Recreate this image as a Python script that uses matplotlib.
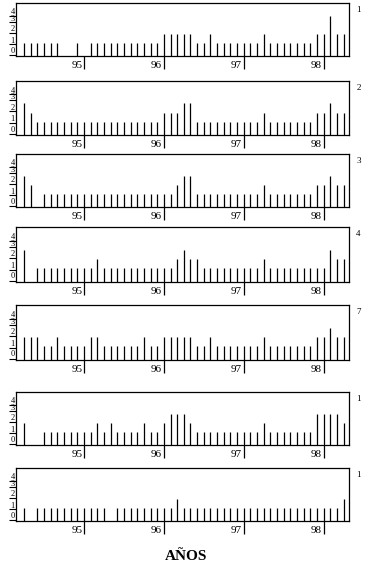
import matplotlib
matplotlib.use('Agg')
import matplotlib.pyplot as plt
from matplotlib import transforms

plt.rcParams['font.family'] = ['Liberation Serif', 'DejaVu Serif']

# months from the first spike (Apr 94) to the last (Apr 98)
months = list(range(49))
year_ticks = [9, 21, 33, 45]
year_labels = ['95', '96', '97', '98']
y_labels = ['0', '1', '2', '3', '4']
panel_ids = ['1', '2', '3', '4', '7', '1', '1']

s1 = [1, 1, 1, 1, 1, 1, 0, 0, 1, 0,
      1, 1, 1, 1, 1, 1, 1, 1, 1, 1,
      1, 2, 2, 2, 2, 2, 1, 1, 2, 1,
      1, 1, 1, 1, 1, 1, 2, 1, 1, 1,
      1, 1, 1, 1, 2, 2, 4, 2, 2]
s2 = [3, 2, 1, 1, 1, 1, 1, 1, 1, 1,
      1, 1, 1, 1, 1, 1, 1, 1, 1, 1,
      1, 2, 2, 2, 3, 3, 1, 1, 1, 1,
      1, 1, 1, 1, 1, 1, 2, 1, 1, 1,
      1, 1, 1, 1, 2, 2, 3, 2, 2]
s3 = [3, 2, 0, 1, 1, 1, 1, 1, 1, 1,
      1, 1, 1, 1, 1, 1, 1, 1, 1, 1,
      1, 1, 1, 2, 3, 3, 1, 1, 1, 1,
      1, 1, 1, 1, 1, 1, 2, 1, 1, 1,
      1, 1, 1, 1, 2, 2, 3, 2, 2]
s4 = [3, 0, 1, 1, 1, 1, 1, 1, 1, 1,
      1, 2, 1, 1, 1, 1, 1, 1, 1, 1,
      1, 1, 1, 2, 3, 2, 2, 1, 1, 1,
      1, 1, 1, 1, 1, 1, 2, 1, 1, 1,
      1, 1, 1, 1, 1, 1, 3, 2, 2]
s5 = [2, 2, 2, 1, 1, 2, 1, 1, 1, 1,
      2, 2, 1, 1, 1, 1, 1, 1, 2, 1,
      1, 2, 2, 2, 2, 2, 1, 1, 2, 1,
      1, 1, 1, 1, 1, 1, 2, 1, 1, 1,
      1, 1, 1, 1, 2, 2, 3, 2, 2]
s6 = [2, 0, 0, 1, 1, 1, 1, 1, 1, 1,
      1, 2, 1, 2, 1, 1, 1, 1, 2, 1,
      1, 2, 3, 3, 3, 2, 1, 1, 1, 1,
      1, 1, 1, 1, 1, 1, 2, 1, 1, 1,
      1, 1, 1, 1, 3, 3, 3, 3, 2]
s7 = [1, 0, 1, 1, 1, 1, 1, 1, 1, 1,
      1, 1, 1, 0, 1, 1, 1, 1, 1, 1,
      1, 1, 1, 2, 1, 1, 1, 1, 1, 1,
      1, 1, 1, 1, 1, 1, 1, 1, 1, 1,
      1, 1, 1, 1, 1, 1, 1, 1, 2]
series = [s1, s2, s3, s4, s5, s6, s7]

W, H = 372, 569
fig = plt.figure(figsize=(W / 100, H / 100), dpi=100)

# panel top / bottom in pixels
tops = [3, 81, 154, 227, 305, 392, 468]
bottoms = [56, 135, 207, 282, 360, 445, 521]
left_px, right_px = 16, 349

ybase = -0.45
ytick_pos = [-0.3, 0.85, 2.15, 3.35, 4.0]
ylab_pos = [0.15, 1.25, 2.55, 3.65, 4.4]

for vals, pid, top, bot in zip(series, panel_ids, tops, bottoms):
    ax = fig.add_axes([left_px / W, 1 - bot / H, (right_px - left_px) / W, (bot - top) / H])
    xs = [m for m, v in zip(months, vals) if v > 0]
    vs = [v for v in vals if v > 0]
    ax.vlines(xs, ybase, vs, color='black', linewidth=0.9)
    ax.set_xlim(-1.2, 48.8)
    ax.set_ylim(ybase, 5.45)

    ax.set_xticks(year_ticks)
    ax.set_xticklabels([])
    ax.tick_params(axis='x', direction='out', length=9.5, width=0.9)
    ax.set_yticks(ytick_pos)
    ax.set_yticklabels([])
    ax.tick_params(axis='y', direction='out', length=5, width=0.8)
    for sp in ax.spines.values():
        sp.set_linewidth(0.9)

    tx = transforms.blended_transform_factory(ax.transData, ax.transAxes)
    for m, lab in zip(year_ticks, year_labels):
        ax.text(m - 0.25, -0.17, lab, transform=tx, ha='right', va='center', fontsize=8)
    ty = transforms.blended_transform_factory(ax.transAxes, ax.transData)
    for yp, lab in zip(ylab_pos, y_labels):
        ax.text(-0.004, yp, lab, transform=ty, ha='right', va='center', fontsize=6)
    ax.text(1.022, 0.87, pid, transform=ax.transAxes, ha='left', va='center', fontsize=6.5)

fig.text(186 / W, 1 - 557 / H, 'AÑOS', ha='center', va='center', fontsize=11, fontweight='bold')

fig.savefig('out.png', dpi=100)
